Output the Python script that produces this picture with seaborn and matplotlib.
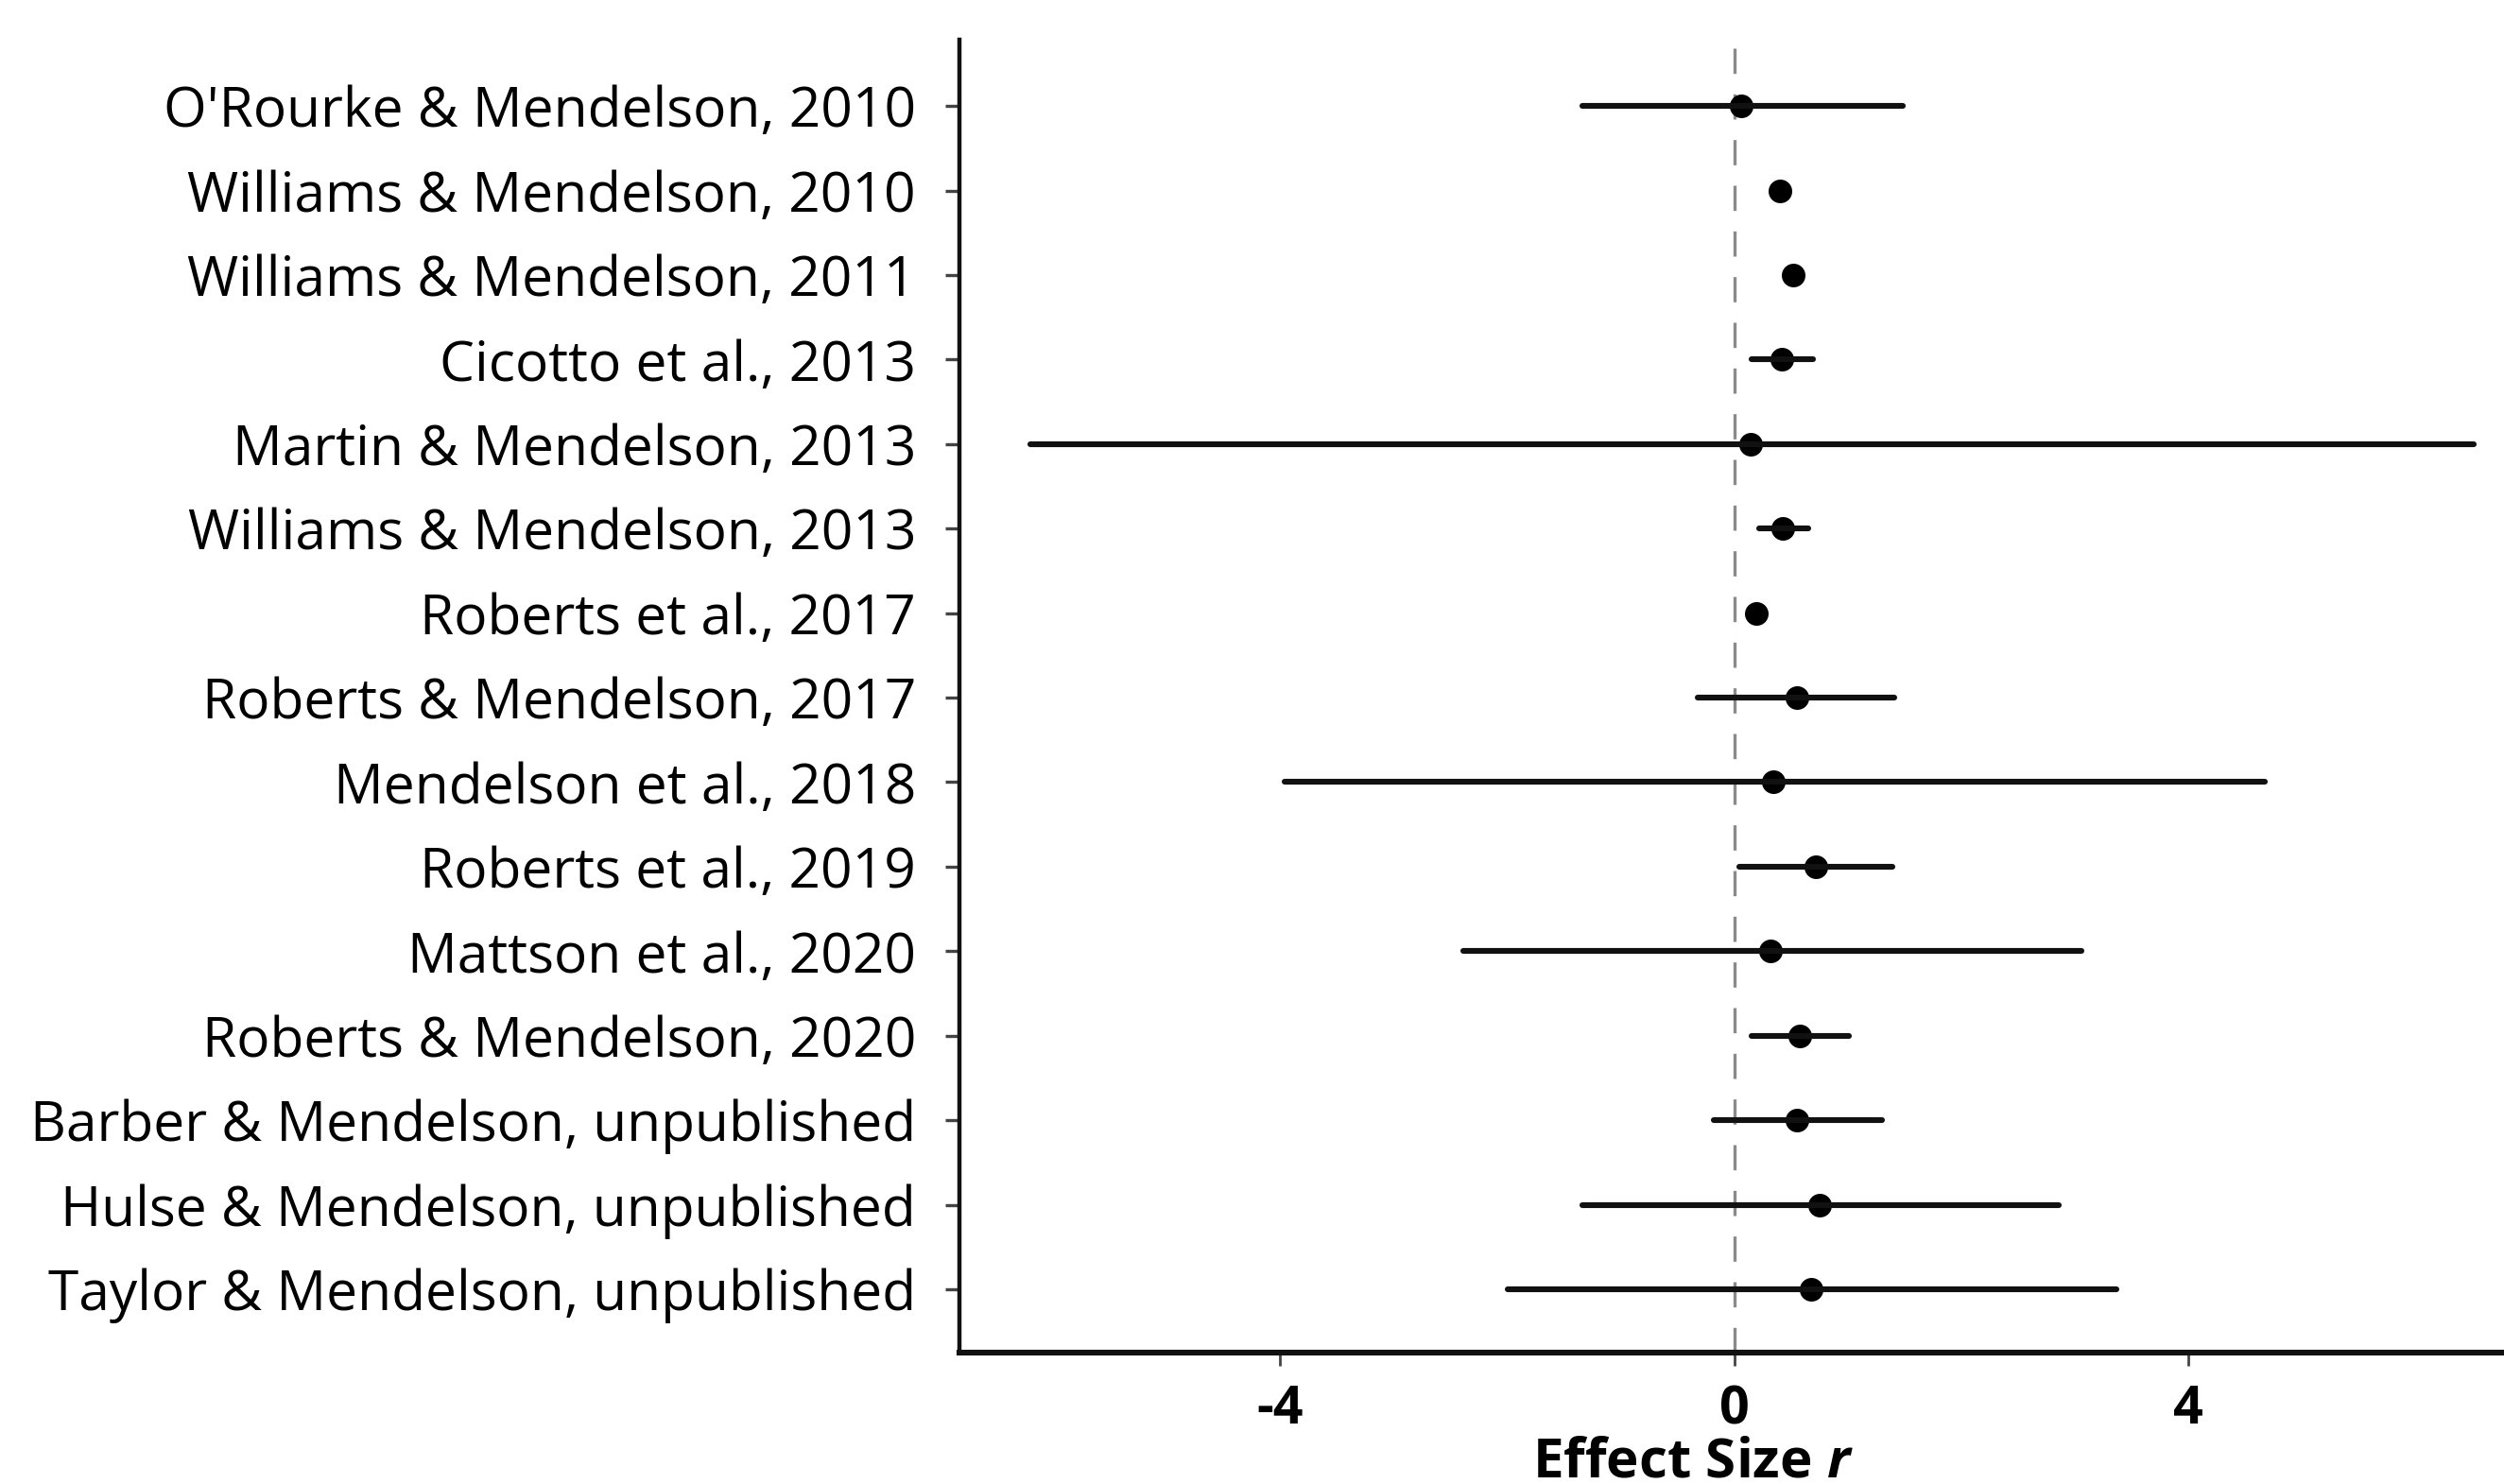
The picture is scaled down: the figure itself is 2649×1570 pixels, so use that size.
import matplotlib
matplotlib.use("Agg")
import matplotlib.pyplot as plt
import pandas as pd
import seaborn as sns

# Study labels, top to bottom
studies = [
    "O'Rourke & Mendelson, 2010",
    "Williams & Mendelson, 2010",
    "Williams & Mendelson, 2011",
    "Cicotto et al., 2013",
    "Martin & Mendelson, 2013",
    "Williams & Mendelson, 2013",
    "Roberts et al., 2017",
    "Roberts & Mendelson, 2017",
    "Mendelson et al., 2018",
    "Roberts et al., 2019",
    "Mattson et al., 2020",
    "Roberts & Mendelson, 2020",
    "Barber & Mendelson, unpublished",
    "Hulse & Mendelson, unpublished",
    "Taylor & Mendelson, unpublished",
]
# effect size r and its confidence interval
effect = [0.06, 0.40, 0.52, 0.42, 0.14, 0.43, 0.19, 0.55, 0.34, 0.72, 0.32, 0.58, 0.55, 0.75, 0.68]
ci_low = [-1.34, 0.40, 0.52, 0.15, -6.20, 0.22, 0.19, -0.32, -3.96, 0.04, -2.39, 0.15, -0.18, -1.34, -2.00]
ci_high = [1.48, 0.40, 0.52, 0.69, 6.51, 0.65, 0.19, 1.41, 4.67, 1.39, 3.06, 1.01, 1.30, 2.86, 3.37]


def main():
    # long format: lower / estimate / upper per study -> median = estimate, 100% interval = CI
    rows = []
    for s, lo, est, hi in zip(studies, ci_low, effect, ci_high):
        for v in (lo, est, hi):
            rows.append({"study": s, "r": v})
    df = pd.DataFrame(rows)

    sns.set_style("ticks")
    plt.rcParams["font.family"] = ["Open Sans", "DejaVu Sans"]
    plt.rcParams["mathtext.fontset"] = "custom"
    plt.rcParams["mathtext.it"] = "Open Sans:italic:bold"
    plt.rcParams["text.color"] = "black"
    plt.rcParams["axes.labelcolor"] = "black"
    plt.rcParams["xtick.labelcolor"] = "black"
    plt.rcParams["ytick.labelcolor"] = "black"

    fig = plt.figure(figsize=(13.245, 7.85), dpi=200)
    ax = fig.add_axes([0.383, 0.0885, 0.617, 0.8845])

    ax.axvline(0, color="#8a8a8a", linewidth=1.2, linestyle=(0, (8, 6.5)), zorder=0)

    sns.pointplot(
        data=df, x="r", y="study", order=studies,
        estimator="median", errorbar=("pi", 100),
        linestyle="none", marker="o", color="black",
        markersize=9, markeredgewidth=0,
        err_kws={"linewidth": 2.2, "color": "#111111"},
        ax=ax,
    )

    ax.set_xlim(-6.83, 6.78)
    ax.set_ylim(14.75, -0.78)
    ax.set_xticks([-4, 0, 4])
    ax.set_xticklabels(["-4", "0", "4"], fontsize=20, fontweight="bold")
    ax.tick_params(axis="y", labelsize=21.1, length=5.4, width=1.2, color="#444444", pad=11)
    ax.tick_params(axis="x", length=5, width=1.0, color="#444444", pad=7)
    ax.set_ylabel("")
    ax.set_xlabel("Effect Size $r$", fontsize=21, fontweight="bold")
    ax.xaxis.label.set_va("center")
    ax.xaxis.set_label_coords(0.475, -0.0835)

    sns.despine(ax=ax)
    ax.spines["left"].set_linewidth(1.6)
    ax.spines["bottom"].set_linewidth(2.2)
    ax.spines["left"].set_color("#111111")
    ax.spines["bottom"].set_color("#111111")

    fig.savefig("out.png", dpi=200)


if __name__ == "__main__":
    main()
